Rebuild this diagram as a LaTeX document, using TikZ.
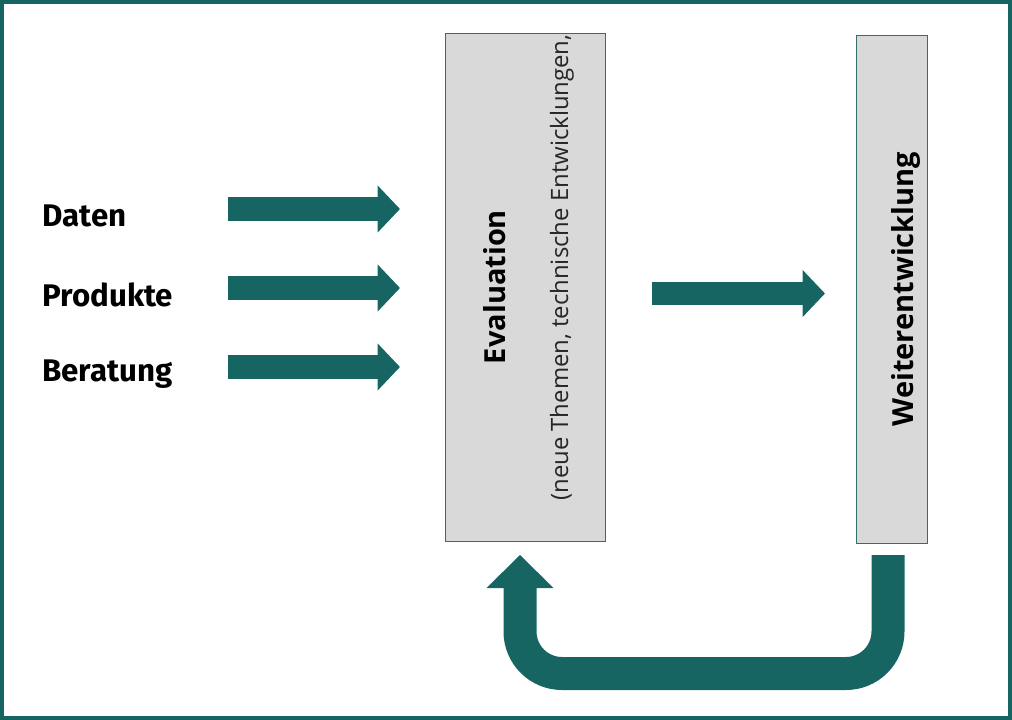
\documentclass[tikz,border=0pt]{standalone}
\usepackage{fontspec}
\setmainfont{Open Sans}
\newfontfamily\labelfont{Fira Sans}
\usetikzlibrary{positioning}
\usetikzlibrary{arrows.meta}
\definecolor{petrol}{RGB}{22,101,99}
\definecolor{boxgray}{RGB}{217,217,217}
\tikzset{
  blockarrow/.style={draw=petrol, line width=0.47cm,
    -{Triangle[length=0.45cm,width=0.92cm]}},
  phase/.style={draw=petrol!70!gray, thin, fill=boxgray, inner sep=0pt},
  inlabel/.style={anchor=west, font=\labelfont\bfseries\fontsize{17.8}{21}\selectfont, inner sep=0pt},
  phasetext/.style={rotate=90, font=\bfseries\fontsize{16.5}{20}\selectfont, inner sep=0pt},
}
\begin{document}
\begin{tikzpicture}[x=0.02cm, y=-0.02cm]
\useasboundingbox (0,0) rectangle (1012,720);
\draw[petrol, line width=0.09cm] (2,2) rectangle (1010,718);
% phases
\node[phase, minimum width=3.2cm, minimum height=10.16cm] (eval) at (525,287) {};
\node[phase, minimum width=1.42cm, minimum height=10.16cm] (weiter) at (891.5,289) {};
\node[phasetext] (evaltitle) at (495,287) {Evaluation};
\node[rotate=90, anchor=west, inner sep=0pt, font=\fontsize{13.6}{16}\selectfont, text=black!85]
  (evalsub) at (562,501) {(neue Themen, technische Entwicklungen,};
\node[phasetext] (weitertitle) at (906,289) {Weiterentwicklung};
% inputs
\foreach \n/\y in {Daten/209, Produkte/288, Beratung/367} {
  \node[inlabel] (\n) at (42,\y+7) {\n};
  \coordinate (\n-s) at (228,\y);
  \coordinate (\n-e) at (400,\y);
  \draw[blockarrow] (\n-s) -- (\n-e);
}
\coordinate (mid-s) at (652,293.5);
\coordinate (mid-e) at (825,293.5);
\draw[blockarrow] (mid-s) -- (mid-e);
% feedback loop
\coordinate (back-s) at (888,555);
\coordinate (back-e) at (520,555);
\draw[petrol, line width=0.66cm, rounded corners=0.84cm]
  (back-s) -- (888,673.5) -- (520,673.5) -- (520,586);
\fill[petrol] (486.5,588) -- (back-e) -- (553.5,588) -- cycle;
\end{tikzpicture}
\end{document}
